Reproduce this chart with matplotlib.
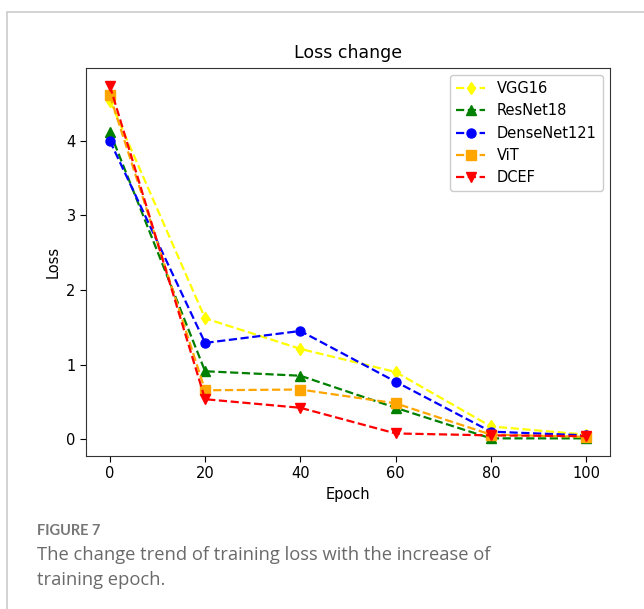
import matplotlib
matplotlib.use("Agg")
import matplotlib.pyplot as plt
from matplotlib.patches import Rectangle

epochs = [0, 20, 40, 60, 80, 100]
vgg16 = [4.54, 1.62, 1.21, 0.90, 0.17, 0.06]
resnet18 = [4.12, 0.91, 0.85, 0.42, 0.01, 0.01]
densenet121 = [4.00, 1.29, 1.45, 0.77, 0.10, 0.05]
vit = [4.61, 0.655, 0.665, 0.48, 0.06, 0.03]
dcef = [4.74, 0.535, 0.42, 0.076, 0.05, 0.04]

series = [
    ("VGG16", vgg16, "yellow", "d"),
    ("ResNet18", resnet18, "green", "^"),
    ("DenseNet121", densenet121, "blue", "o"),
    ("ViT", vit, "orange", "s"),
    ("DCEF", dcef, "red", "v"),
]

W, H = 644, 609
fig = plt.figure(figsize=(W / 100, H / 100), dpi=100)
fig.patch.set_facecolor("white")

# outer light frame
fig.add_artist(Rectangle((7 / W, -0.1), 1.2, (H - 12) / H + 0.1,
                         transform=fig.transFigure, fill=False,
                         edgecolor="#cccccc", linewidth=1.2))

ax_left, ax_top, ax_right, ax_bottom = 86, 68, 610, 456
ax = fig.add_axes([ax_left / W, 1 - ax_bottom / H,
                   (ax_right - ax_left) / W, (ax_bottom - ax_top) / H])

for name, vals, color, marker in series:
    ax.plot(epochs, vals, linestyle="--", color=color, marker=marker,
            markersize=6.5, linewidth=1.6, label=name)

ax.set_xticks(epochs)
ax.set_yticks([0, 1, 2, 3, 4])
ax.tick_params(labelsize=10.5, length=4)
ax.set_title("Loss change", fontsize=12.5, pad=7)
ax.set_xlabel("Epoch", fontsize=10.5)
ax.set_ylabel("Loss", fontsize=10.5)
for sp in ax.spines.values():
    sp.set_color("#333333")
ax.legend(loc="upper right", fontsize=10.5, framealpha=1)

fig.text(37 / W, 1 - 531 / H, "FIGURE 7", fontsize=10.5, color="#777777",
         family="Lato", weight="bold", va="center", ha="left")
fig.text(37 / W, 1 - 555 / H, "The change trend of training loss with the increase of",
         fontsize=13.2, color="#6a6a6a", family="Open Sans", va="center", ha="left")
fig.text(37 / W, 1 - 580 / H, "training epoch.",
         fontsize=13.2, color="#6a6a6a", family="Open Sans", va="center", ha="left")

fig.savefig("out.png", dpi=100)
